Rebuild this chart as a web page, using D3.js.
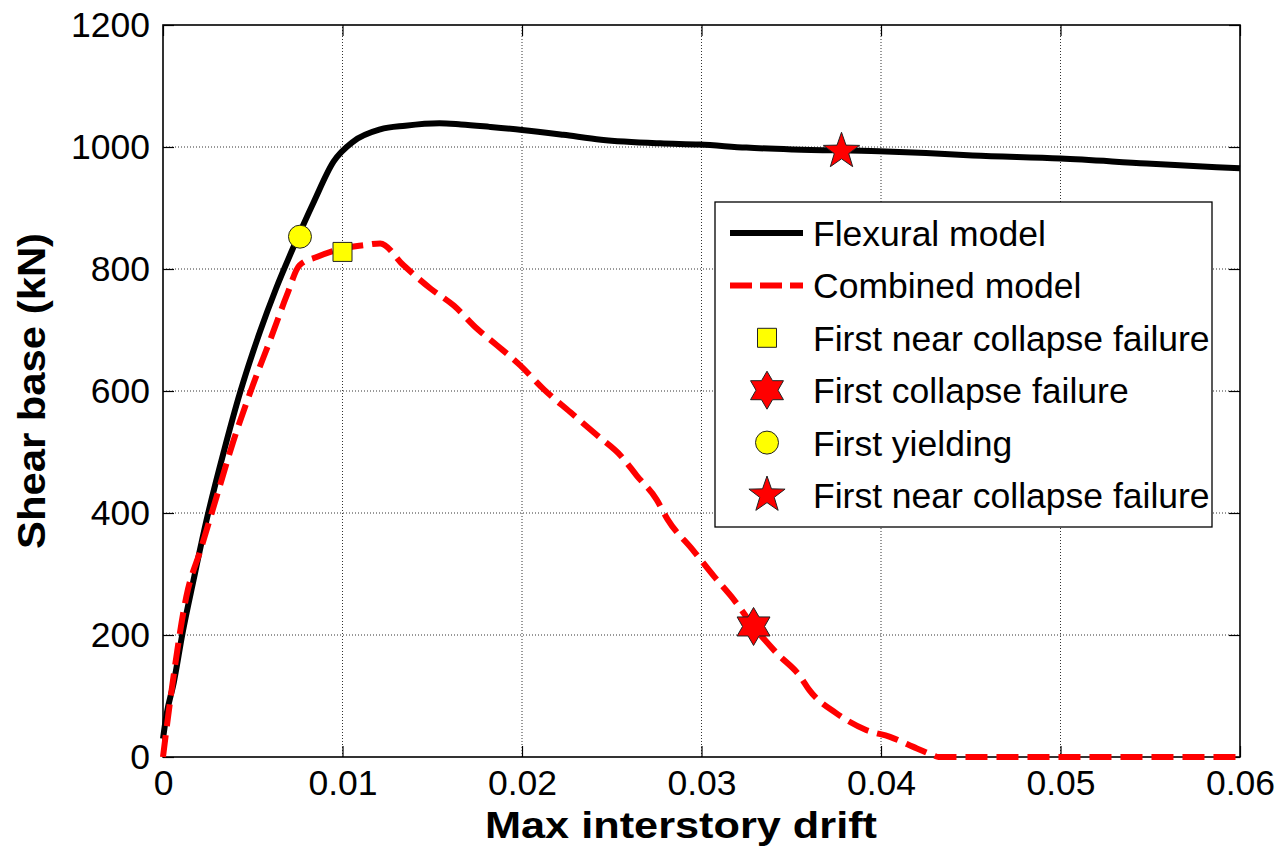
<!DOCTYPE html>
<html>
<head>
<meta charset="utf-8">
<script src="https://cdn.jsdelivr.net/npm/d3@7"></script>
<style>
  body { margin: 0; background: #fff; }
  svg { display: block; font-family: "Liberation Sans", Arial, sans-serif; }
</style>
</head>
<body>
<div id="chart"></div>
<script>
// values
const flexDrift = [0, 0.0002, 0.0006, 0.0011, 0.0017, 0.0024, 0.0034, 0.0043, 0.0054, 0.0063, 0.0073, 0.0084, 0.0095, 0.0106, 0.0121, 0.0135, 0.0154, 0.0166, 0.0182, 0.02, 0.0223, 0.0244, 0.0277, 0.0299, 0.0325, 0.0351, 0.0399, 0.0425, 0.0451, 0.05, 0.0548, 0.0574, 0.06];
const flexShear = [30, 70, 122, 205, 290, 385, 502, 598, 697, 768, 838, 910, 976, 1009, 1029, 1035, 1039, 1037, 1033, 1028, 1020, 1012, 1006, 1004, 999, 996, 993, 990, 986, 981, 973, 969, 965];

const combDrift = [0, 0.0003, 0.0006, 0.0013, 0.0021, 0.003, 0.0039, 0.005, 0.006, 0.0069, 0.0076, 0.0086, 0.0099, 0.0112, 0.0121, 0.0134, 0.0149, 0.0162, 0.0175, 0.0186, 0.0199, 0.0212, 0.0227, 0.0242, 0.0255, 0.0264, 0.0275, 0.0281, 0.0295, 0.0307, 0.0318, 0.0329, 0.0342, 0.0355, 0.036, 0.0375, 0.0392, 0.0405, 0.042, 0.0429, 0.0432, 0.06];
const combShear = [0, 70, 135, 263, 340, 428, 516, 609, 686, 757, 806, 820, 833, 839, 842, 806, 768, 740, 702, 675, 642, 603, 565, 527, 494, 461, 422, 390, 340, 296, 258, 214, 170, 132, 110, 72, 44, 33, 14, 3, 0, 0];

const markerNames = ["First near collapse failure", "First collapse failure", "First yielding", "First near collapse failure"];
const markerDrift = [0.0100, 0.0329, 0.00763, 0.0378];
const markerShear = [828, 214, 853, 993];
const markerShape = ["square", "hexagram", "circle", "star"];
const markerColor = ["#ffff00", "#ff0000", "#ffff00", "#ff0000"];

const xTicks = [0, 0.01, 0.02, 0.03, 0.04, 0.05, 0.06];
const xTickLabels = ["0", "0.01", "0.02", "0.03", "0.04", "0.05", "0.06"];
const yTicks = [0, 200, 400, 600, 800, 1000, 1200];

const width = 1279, height = 853;
const margin = {top: 25, right: 39, bottom: 96, left: 163};

const svg = d3.select("#chart").append("svg")
  .attr("width", width)
  .attr("height", height);

const x = d3.scaleLinear().domain([0, 0.06]).range([margin.left, width - margin.right]);
const y = d3.scaleLinear().domain([0, 1200]).range([height - margin.bottom, margin.top]);

// grid
const grid = svg.append("g")
  .attr("stroke", "#333")
  .attr("stroke-width", 1)
  .attr("stroke-dasharray", "1,2");
grid.selectAll(".gx").data(xTicks.slice(1, -1)).join("line")
  .attr("x1", d => x(d)).attr("x2", d => x(d))
  .attr("y1", y(0)).attr("y2", y(1200));
grid.selectAll(".gy").data(yTicks.slice(1, -1)).join("line")
  .attr("x1", x(0)).attr("x2", x(0.06))
  .attr("y1", d => y(d)).attr("y2", d => y(d));

// axes (ticks inward)
svg.append("g")
  .attr("transform", `translate(0,${y(0)})`)
  .call(d3.axisBottom(x).tickValues(xTicks).tickFormat((d, i) => xTickLabels[i])
    .tickSizeInner(-11).tickSizeOuter(0).tickPadding(13));
svg.append("g")
  .attr("transform", `translate(${x(0)},0)`)
  .call(d3.axisLeft(y).tickValues(yTicks).tickFormat(d3.format("d"))
    .tickSizeInner(-11).tickSizeOuter(0).tickPadding(13));
svg.append("g")
  .attr("transform", `translate(0,${y(1200)})`)
  .call(d3.axisTop(x).tickValues(xTicks).tickFormat("").tickSizeInner(-11).tickSizeOuter(0));
svg.append("g")
  .attr("transform", `translate(${x(0.06)},0)`)
  .call(d3.axisRight(y).tickValues(yTicks).tickFormat("").tickSizeInner(-11).tickSizeOuter(0));

svg.selectAll(".domain").remove();
svg.selectAll(".tick line").attr("stroke", "#000").attr("stroke-width", 1.2);
svg.selectAll(".tick text")
  .attr("font-size", 35.5)
  .attr("font-family", "Liberation Sans, Arial, sans-serif")
  .attr("fill", "#000");

// frame
svg.append("rect")
  .attr("x", x(0)).attr("y", y(1200))
  .attr("width", x(0.06) - x(0)).attr("height", y(0) - y(1200))
  .attr("fill", "none").attr("stroke", "#000").attr("stroke-width", 1.6);

// curves
const line = d3.line().x(d => x(d[0])).y(d => y(d[1])).curve(d3.curveMonotoneX);

svg.append("path")
  .datum(d3.zip(flexDrift, flexShear))
  .attr("fill", "none")
  .attr("stroke", "#000")
  .attr("stroke-width", 6)
  .attr("stroke-linejoin", "round")
  .attr("d", line);

svg.append("path")
  .datum(d3.zip(combDrift, combShear))
  .attr("fill", "none")
  .attr("stroke", "#ff0000")
  .attr("stroke-width", 6)
  .attr("stroke-dasharray", "22,9")
  .attr("d", line);

// marker shapes
function starPath(n, rOut, rIn) {
  const pts = [];
  for (let i = 0; i < 2 * n; i++) {
    const r = i % 2 === 0 ? rOut : rIn;
    const a = Math.PI * i / n;
    pts.push([r * Math.sin(a), -r * Math.cos(a)]);
  }
  return "M" + pts.map(p => p.join(",")).join("L") + "Z";
}
function shapePath(s) {
  if (s === "square") return d3.symbol(d3.symbolSquare, 19 * 19)();
  if (s === "circle") return d3.symbol(d3.symbolCircle, Math.PI * 11.5 * 11.5)();
  if (s === "hexagram") return starPath(6, 19, 11);
  return starPath(5, 19, 7.6);
}

svg.append("g")
  .selectAll("path")
  .data(d3.range(markerNames.length))
  .join("path")
  .attr("transform", i => `translate(${x(markerDrift[i])},${y(markerShear[i])})`)
  .attr("d", i => shapePath(markerShape[i]))
  .attr("fill", i => markerColor[i])
  .attr("stroke", "#222")
  .attr("stroke-width", 1);

// legend
const leg = svg.append("g");
leg.append("rect")
  .attr("x", 715).attr("y", 202)
  .attr("width", 497).attr("height", 325)
  .attr("fill", "#fff").attr("stroke", "#000").attr("stroke-width", 1.3);

const legNames = ["Flexural model", "Combined model"].concat(markerNames);
const rowY = i => 233 + i * 52.4;

leg.append("line")
  .attr("x1", 730).attr("x2", 803).attr("y1", rowY(0)).attr("y2", rowY(0))
  .attr("stroke", "#000").attr("stroke-width", 6);
leg.append("line")
  .attr("x1", 730).attr("x2", 803).attr("y1", rowY(1)).attr("y2", rowY(1))
  .attr("stroke", "#ff0000").attr("stroke-width", 6).attr("stroke-dasharray", "22,8");

leg.selectAll(".lm")
  .data(d3.range(markerNames.length))
  .join("path")
  .attr("transform", i => `translate(767,${rowY(i + 2)})`)
  .attr("d", i => shapePath(markerShape[i]))
  .attr("fill", i => markerColor[i])
  .attr("stroke", "#222")
  .attr("stroke-width", 1);

leg.selectAll("text")
  .data(legNames)
  .join("text")
  .attr("x", 813)
  .attr("y", (d, i) => rowY(i) + 13)
  .attr("font-size", 35.5)
  .attr("fill", "#000")
  .text(d => d);

// axis titles
svg.append("text")
  .attr("x", 681).attr("y", 838)
  .attr("text-anchor", "middle")
  .attr("font-size", 37)
  .attr("font-weight", "bold")
  .attr("textLength", 392)
  .attr("lengthAdjust", "spacingAndGlyphs")
  .text("Max interstory drift");

svg.append("text")
  .attr("transform", `translate(45,${(y(0) + y(1200)) / 2}) rotate(-90)`)
  .attr("text-anchor", "middle")
  .attr("font-size", 38)
  .attr("font-weight", "bold")
  .attr("textLength", 316)
  .attr("lengthAdjust", "spacingAndGlyphs")
  .text("Shear base (kN)");
</script>
</body>
</html>
